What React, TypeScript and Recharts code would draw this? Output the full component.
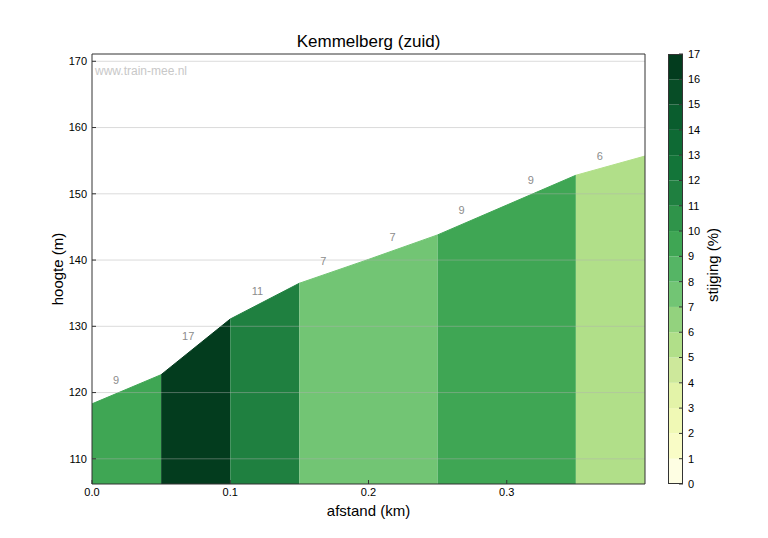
import {
  ComposedChart,
  Area,
  Scatter,
  XAxis,
  YAxis,
  ReferenceLine,
  BarChart,
  Bar,
} from "recharts";

// afstand (km) and hoogte (m) at every 50 m point
const DIST = [0, 0.05, 0.1, 0.15, 0.2, 0.25, 0.3, 0.35, 0.4];
const ELEV = [118.3, 122.7, 131.1, 136.5, 140.1, 143.8, 148.3, 152.8, 155.7];
// stijging (%) per 50 m segment, as printed on the chart
const GRADES = [9, 17, 11, 7, 7, 9, 9, 6];
// where the grade numbers sit (km, m)
const LABEL_X = [0.0174, 0.0696, 0.1196, 0.1674, 0.2174, 0.2674, 0.3174, 0.3674];
const LABEL_Y = [121.9, 128.5, 135.3, 139.85, 143.5, 147.5, 152.1, 155.7];

const X_TICKS = [0, 0.1, 0.2, 0.3];
const Y_TICKS = [110, 120, 130, 140, 150, 160, 170];
const CB_TICKS = [0, 1, 2, 3, 4, 5, 6, 7, 8, 9, 10, 11, 12, 13, 14, 15, 16, 17];
const CB_BINS = [0, 1, 2, 3, 4, 5, 6, 7, 8, 9, 10, 11, 12, 13, 14, 15, 16];

const CB_COLORS = [
  "#fefee3", "#f9fcc6", "#f0f9b5", "#e3f3a8", "#cde89b", "#b1df89",
  "#93d27e", "#72c574", "#55b565", "#3fa654", "#2f944a", "#1f8040",
  "#137539", "#0e6a34", "#0a5d2e", "#074d26", "#033c1e",
];
const GRADE_COLOR: Record<number, string> = {
  6: "#b1df89",
  7: "#72c574",
  9: "#3fa654",
  11: "#1f8040",
  17: "#033c1e",
};

const FONT = '"Liberation Sans", Arial, Helvetica, sans-serif';

// consecutive segments with the same grade are filled as one area (no seams)
const runs: { start: number; end: number; grade: number }[] = [];
GRADES.forEach((g, s) => {
  const last = runs[runs.length - 1];
  if (last && last.grade === g) last.end = s + 1;
  else runs.push({ start: s, end: s + 1, grade: g });
});

const profile = DIST.map((x, i) => {
  const row: Record<string, number | null> = { x };
  runs.forEach((r, k) => {
    row[`r${k}`] = i >= r.start && i <= r.end ? ELEV[i] : null;
  });
  return row;
});

const labels = LABEL_X.map((x, i) => ({ x, y: LABEL_Y[i], g: GRADES[i] }));

const cbRow: Record<string, number | string> = { name: "cb" };
CB_BINS.forEach((b) => (cbRow[`b${b}`] = 1));
const cbData = [cbRow];

const tickStyle = { fontSize: 11, fill: "#000", fontFamily: FONT };
const lineStyle = { stroke: "#333" };

function GradeLabel(props: any) {
  const { cx, cy, payload } = props;
  return (
    <text
      x={cx}
      y={cy}
      textAnchor="middle"
      dominantBaseline="central"
      fontSize={11}
      fill="#8c8c8c"
      fontFamily={FONT}
    >
      {payload.g}
    </text>
  );
}

export default function App() {
  return (
    <div
      style={{
        position: "absolute",
        left: 0,
        top: 0,
        width: 768,
        height: 538,
        background: "#fff",
        fontFamily: FONT,
      }}
    >
      <ComposedChart
        width={768}
        height={538}
        data={profile}
        margin={{ top: 53, right: 122, bottom: 24, left: 42 }}
      >
        <XAxis
          dataKey="x"
          type="number"
          domain={[0, 0.4]}
          ticks={X_TICKS}
          tickFormatter={(v: number) => v.toFixed(1)}
          height={30}
          tickSize={-4}
          tickMargin={8}
          tick={tickStyle}
          axisLine={lineStyle}
          tickLine={lineStyle}
          allowDataOverflow
        />
        <XAxis
          xAxisId="top"
          dataKey="x"
          type="number"
          orientation="top"
          domain={[0, 0.4]}
          ticks={X_TICKS}
          height={1}
          tickSize={-4}
          tick={false}
          axisLine={lineStyle}
          tickLine={lineStyle}
          allowDataOverflow
        />
        <YAxis
          type="number"
          domain={[106.2, 171.1]}
          ticks={Y_TICKS}
          width={50}
          tickSize={-4}
          tickMargin={9}
          tick={tickStyle}
          axisLine={lineStyle}
          tickLine={lineStyle}
          allowDataOverflow
        />
        <YAxis
          yAxisId="right"
          type="number"
          orientation="right"
          domain={[106.2, 171.1]}
          ticks={Y_TICKS}
          width={1}
          tickSize={-4}
          tick={false}
          axisLine={lineStyle}
          tickLine={lineStyle}
          allowDataOverflow
        />
        {runs.map((r, k) => (
          <Area
            key={k}
            dataKey={`r${k}`}
            type="linear"
            fill={GRADE_COLOR[r.grade]}
            fillOpacity={1}
            stroke={GRADE_COLOR[r.grade]}
            strokeWidth={1}
            connectNulls={false}
            dot={false}
            activeDot={false}
            isAnimationActive={false}
          />
        ))}
        {Y_TICKS.map((t) => (
          <ReferenceLine key={t} y={t} stroke="#b0b0b0" strokeOpacity={0.45} />
        ))}
        <Scatter
          data={labels}
          dataKey="y"
          shape={GradeLabel}
          isAnimationActive={false}
        />
      </ComposedChart>

      <div
        style={{
          position: "absolute",
          left: 95,
          top: 64,
          fontSize: 12,
          color: "#c8c8c8",
        }}
      >
        www.train-mee.nl
      </div>
      <div
        style={{
          position: "absolute",
          left: 92,
          width: 553,
          top: 32,
          textAlign: "center",
          fontSize: 17,
          color: "#000",
        }}
      >
        Kemmelberg (zuid)
      </div>
      <div
        style={{
          position: "absolute",
          left: 92,
          width: 553,
          top: 502,
          textAlign: "center",
          fontSize: 15,
          color: "#000",
        }}
      >
        afstand (km)
      </div>
      <div
        style={{
          position: "absolute",
          left: 57,
          top: 269,
          transform: "translate(-50%, -50%) rotate(-90deg)",
          fontSize: 15,
          whiteSpace: "nowrap",
          color: "#000",
        }}
      >
        hoogte (m)
      </div>

      <div style={{ position: "absolute", left: 668, top: 0 }}>
        <BarChart
          width={100}
          height={538}
          data={cbData}
          barCategoryGap={0}
          margin={{ top: 54, right: 45, bottom: 54, left: 0 }}
        >
          <XAxis dataKey="name" hide />
          <YAxis
            orientation="right"
            type="number"
            domain={[0, 17]}
            ticks={CB_TICKS}
            width={40}
            tickSize={-4}
            tickMargin={9}
            axisLine={false}
            tick={tickStyle}
            tickLine={lineStyle}
            interval={0}
          />
          {CB_BINS.map((b) => (
            <Bar
              key={b}
              dataKey={`b${b}`}
              stackId="cb"
              fill={CB_COLORS[b]}
              isAnimationActive={false}
            />
          ))}
        </BarChart>
      </div>
      <div
        style={{
          position: "absolute",
          left: 668,
          top: 54,
          width: 15,
          height: 430,
          boxSizing: "border-box",
          border: "1px solid #333",
          pointerEvents: "none",
        }}
      />
      <div
        style={{
          position: "absolute",
          left: 712,
          top: 265,
          transform: "translate(-50%, -50%) rotate(-90deg)",
          fontSize: 15,
          whiteSpace: "nowrap",
          color: "#000",
        }}
      >
        stijging (%)
      </div>
    </div>
  );
}
